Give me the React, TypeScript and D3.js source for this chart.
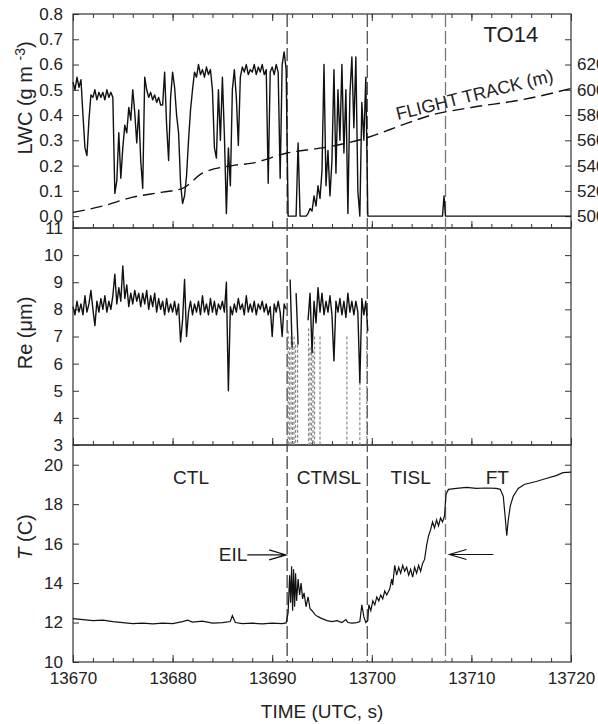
import React, { useEffect, useRef } from 'react'
import * as d3 from 'd3'

// time axis (UTC seconds)
const timeStart = 13670
const timeEnd = 13720
const sampleStep = 0.2
const timeTicks = [13670, 13680, 13690, 13700, 13710, 13720]
const timeMinorTicks = d3.range(13670, 13721, 2)

// axis ticks
const lwcTicks = [0.0, 0.1, 0.2, 0.3, 0.4, 0.5, 0.6, 0.7, 0.8]
const altitudeTicks = [500, 520, 540, 560, 580, 600, 620, 640]
const altitudeLabels = [500, 520, 540, 560, 580, 600, 620]
const reTicks = [3, 4, 5, 6, 7, 8, 9, 10, 11]
const tempTicks = [10, 12, 14, 16, 18, 20]

// LWC (g m-3), one value every 0.2 s from 13670 to 13699.8
const lwcSamples = [
  0.53, 0.50, 0.55, 0.51, 0.54,
  0.40, 0.27, 0.24, 0.38, 0.48,
  0.47, 0.50, 0.46, 0.49, 0.47,
  0.49, 0.46, 0.50, 0.47, 0.49,
  0.47, 0.09, 0.14, 0.33, 0.15,
  0.27, 0.36, 0.33, 0.43, 0.38,
  0.50, 0.41, 0.29, 0.42, 0.22,
  0.11, 0.55, 0.50, 0.47, 0.49,
  0.46, 0.48, 0.45, 0.47, 0.44,
  0.44, 0.57, 0.36, 0.22, 0.47,
  0.57, 0.51, 0.40, 0.33, 0.13,
  0.05, 0.08, 0.16, 0.30, 0.42,
  0.50, 0.57, 0.55, 0.60, 0.56,
  0.58, 0.55, 0.59, 0.56, 0.58,
  0.50, 0.27, 0.23, 0.50, 0.30,
  0.55, 0.32, 0.01, 0.27, 0.12,
  0.50, 0.58, 0.47, 0.28, 0.55,
  0.59, 0.57, 0.60, 0.56, 0.58,
  0.57, 0.60, 0.56, 0.59, 0.57,
  0.60, 0.56, 0.58, 0.13, 0.57,
  0.59, 0.56, 0.60, 0.57, 0.15,
  0.60, 0.65, 0.58, 0.00, 0.00,
  0.00, 0.00, 0.00, 0.29, 0.00,
  0.00, 0.00, 0.00, 0.01, 0.03,
  0.02, 0.08, 0.04, 0.12, 0.07,
  0.18, 0.60, 0.12, 0.26, 0.08,
  0.22, 0.58, 0.17, 0.50, 0.30,
  0.60, 0.25, 0.50, 0.01, 0.48,
  0.63, 0.35, 0.63, 0.10, 0.00,
  0.45, 0.30, 0.55, 0.00, 0.00,
]
// LWC above the cloud
const lwcClearAir: [number, number][] = [
  [13699.8, 0], [13707.1, 0], [13707.25, 0.08], [13707.4, 0], [13720, 0],
]

// flight altitude (m)
const flightTrack: [number, number][] = [
  [13670, 503], [13673, 508], [13676, 515], [13679, 519], [13681, 522],
  [13683, 534], [13686, 540], [13688, 542], [13691.5, 550], [13695, 554],
  [13699.5, 562], [13703, 572], [13706, 580], [13710, 586], [13715, 592],
  [13720, 601],
]

// Re (um), one value every 0.2 s from 13670, null = no droplets
const reSamples = [
  8.1, 7.8, 8.3, 7.9, 8.2,
  7.8, 8.5, 7.9, 8.2, 8.7,
  8.0, 7.4, 8.3, 7.9, 8.4,
  8.0, 8.5, 7.9, 8.3, 8.0,
  8.5, 9.3, 8.2, 8.8, 8.3,
  9.6, 8.4, 8.9, 8.1, 8.6,
  8.2, 8.7, 8.3, 8.6, 8.1,
  8.6, 8.2, 8.7, 8.0, 8.5,
  8.1, 8.6, 7.9, 8.4, 8.0,
  8.3, 7.8, 8.4, 7.9, 8.2,
  7.9, 8.3, 7.8, 8.2, 6.8,
  7.6, 9.1, 7.0, 7.9, 8.3,
  7.8, 8.2, 7.9, 8.3, 7.8,
  8.5, 7.9, 8.2, 7.8, 8.4,
  7.9, 8.3, 7.8, 8.2, 8.0,
  8.3, 7.9, 9.0, 5.0, 8.1,
  7.8, 8.2, 7.9, 8.4, 8.0,
  8.2, 7.8, 8.5, 7.9, 8.2,
  7.9, 8.3, 7.8, 8.2, 8.0,
  8.3, 7.9, 8.2, 7.8, 8.1,
  7.0, 8.2, 7.9, 8.3, 7.9,
  7.0, 8.2, 8.0, null, 9.1,
  6.6, null, 8.6, 6.7, null,
  null, null, null, 7.6, 8.6,
  6.4, 8.3, 7.5, 8.8, 7.9,
  8.6, 7.8, 8.3, 7.9, 8.5,
  7.8, 6.1, 8.3, 7.9, 8.4,
  7.8, 8.3, 7.7, 8.6, 7.9,
  8.3, 7.8, 8.3, 7.9, 5.3,
  8.4, 7.8, 8.3, 7.2, null,
]
// gray dropouts in Re: [time, value where the drop starts]
const reDropouts: [number, number][] = [
  [13691.6, 7.2], [13691.75, 6.6], [13691.9, 7.0], [13692.05, 6.8],
  [13692.2, 7.0], [13692.35, 6.7], [13692.55, 6.7], [13693.65, 7.3],
  [13693.8, 6.6], [13693.95, 6.4], [13694.1, 6.5], [13694.25, 7.0],
  [13694.8, 7.0], [13697.5, 7.0], [13698.8, 5.5], [13699.5, 7.2],
]

// temperature (C)
const temperature: [number, number][] = [
  [13670, 12.2], [13671, 12.15], [13672, 12.1], [13673, 12.12], [13674, 12.05],
  [13675, 12.0], [13676, 11.95], [13677, 11.97], [13678, 11.93], [13679, 11.97],
  [13680, 11.95], [13681, 12.05], [13681.5, 12.12], [13682, 12.02], [13683, 12.07],
  [13684, 11.97], [13685, 12.0], [13685.8, 12.05], [13686.0, 12.35], [13686.3, 12.0],
  [13687, 11.95], [13688, 11.97], [13689, 11.93], [13690, 11.97], [13691, 11.95],
  [13691.4, 11.98], [13691.6, 12.5], [13691.75, 14.4], [13691.85, 13.0], [13691.95, 14.85],
  [13692.05, 12.6], [13692.15, 14.7], [13692.25, 12.8], [13692.35, 14.5], [13692.45, 13.1],
  [13692.6, 14.2], [13692.75, 13.4], [13692.9, 14.0], [13693.05, 13.2], [13693.2, 13.5],
  [13693.4, 12.8], [13693.6, 13.3], [13693.8, 12.7], [13694, 12.6], [13694.3, 12.4],
  [13694.6, 12.3], [13695, 12.2], [13695.5, 12.1], [13696, 12.05], [13696.5, 12.1],
  [13697, 12.0], [13697.4, 12.15], [13697.6, 12.0], [13698, 11.97], [13698.5, 12.0],
  [13698.8, 12.05], [13699.0, 12.9], [13699.2, 12.3], [13699.4, 12.0], [13699.6, 12.1],
  [13699.7, 12.9], [13699.9, 12.6], [13700.1, 13.1], [13700.3, 12.9], [13700.5, 13.3],
  [13700.7, 13.1], [13700.9, 13.4], [13701.1, 13.2], [13701.3, 13.6], [13701.5, 13.4],
  [13701.8, 13.7], [13702.0, 14.2], [13702.1, 13.9], [13702.3, 14.9], [13702.5, 14.4],
  [13702.7, 14.8], [13702.9, 14.5], [13703.1, 14.9], [13703.3, 14.6], [13703.5, 14.8],
  [13703.7, 14.4], [13703.9, 14.7], [13704.1, 14.3], [13704.3, 14.8], [13704.5, 14.5],
  [13704.7, 14.9], [13704.9, 14.6], [13705.1, 15.0], [13705.3, 15.2], [13705.5, 15.9],
  [13705.7, 16.4], [13705.9, 16.7], [13706.1, 17.1], [13706.3, 16.8], [13706.5, 17.2],
  [13706.7, 16.9], [13706.9, 17.3], [13707.1, 17.1], [13707.3, 17.4], [13707.45, 18.5],
  [13707.7, 18.75], [13708.5, 18.8], [13709.5, 18.85], [13710.5, 18.8], [13711.5, 18.82],
  [13712.5, 18.8], [13712.9, 18.75], [13713.2, 18.4], [13713.4, 17.3], [13713.55, 16.4],
  [13713.7, 17.2], [13713.9, 17.9], [13714.2, 18.4], [13714.7, 18.8], [13715.3, 19.0],
  [13716.5, 19.15], [13717.5, 19.3], [13718.5, 19.45], [13719.2, 19.6], [13720, 19.62],
]

// layer boundaries and names
const layerBounds = [13691.5, 13699.55, 13707.4]
const layerBoundColors = ['#444', '#555', '#777']
const layerNames = ['CTL', 'CTMSL', 'TISL', 'FT']
const layerLabelTimes = [13681.85, 13695.7, 13703.9, 13712.6]
const layerLabelTemp = 19.0

const font = 'Liberation Sans, Arial, sans-serif'

function App() {
  const svgRef = useRef<SVGSVGElement>(null)

  useEffect(() => {
    const svg = d3.select(svgRef.current)
    svg.selectAll('*').remove()

    const left = 73
    const right = 571

    const x = d3.scaleLinear().domain([timeStart, timeEnd]).range([left, right])
    const yLwc = d3.scaleLinear().domain([-0.047, 0.8]).range([228, 14])
    const yAlt = d3.scaleLinear().domain([500 - 0.047 * 200, 500 + 0.8 * 200]).range([228, 14])
    const yRe = d3.scaleLinear().domain([3, 11]).range([445, 228])
    const yT = d3.scaleLinear().domain([10, 21]).range([662, 445])

    const panels = [yLwc, yRe, yT]

    const styleAxis = (g: any) => {
      g.select('.domain').remove()
      g.selectAll('line').attr('stroke', '#333')
      g.selectAll('text').attr('font-family', font).attr('font-size', 17).attr('fill', '#222')
    }

    // frames
    panels.forEach(y => {
      svg.append('rect')
        .attr('x', left).attr('y', y.range()[1])
        .attr('width', right - left).attr('height', y.range()[0] - y.range()[1])
        .attr('fill', 'none').attr('stroke', '#333').attr('stroke-width', 1.2)
    })

    // x ticks: top of first panel, bottom of each panel
    svg.append('g').attr('transform', `translate(0,${yLwc.range()[1]})`)
      .call(d3.axisTop(x).tickValues(timeMinorTicks).tickSize(-4).tickFormat(() => ''))
      .call(styleAxis)
    svg.append('g').attr('transform', `translate(0,${yLwc.range()[1]})`)
      .call(d3.axisTop(x).tickValues(timeTicks).tickSize(-7).tickFormat(() => ''))
      .call(styleAxis)
    panels.forEach((y, i) => {
      svg.append('g').attr('transform', `translate(0,${y.range()[0]})`)
        .call(d3.axisBottom(x).tickValues(timeMinorTicks).tickSize(-4).tickFormat(() => ''))
        .call(styleAxis)
      svg.append('g').attr('transform', `translate(0,${y.range()[0]})`)
        .call(d3.axisBottom(x).tickValues(timeTicks).tickSize(-7).tickPadding(10)
          .tickFormat(d => (i === 2 ? String(d) : '')))
        .call(styleAxis)
    })

    // left axes
    svg.append('g').attr('transform', `translate(${left},0)`)
      .call(d3.axisLeft(yLwc).tickValues(lwcTicks).tickSize(-6).tickPadding(10).tickFormat(d3.format('.1f')))
      .call(styleAxis)
    svg.append('g').attr('transform', `translate(${left},0)`)
      .call(d3.axisLeft(yRe).tickValues(reTicks).tickSize(-6).tickPadding(10).tickFormat(d3.format('d')))
      .call(styleAxis)
    svg.append('g').attr('transform', `translate(${left},0)`)
      .call(d3.axisLeft(yT).tickValues(tempTicks).tickSize(-6).tickPadding(10).tickFormat(d3.format('d')))
      .call(styleAxis)

    // right axes
    svg.append('g').attr('transform', `translate(${right},0)`)
      .call(d3.axisRight(yAlt).tickValues(altitudeTicks).tickSize(-6).tickPadding(6)
        .tickFormat(d => (altitudeLabels.includes(+d) ? String(d) : '')))
      .call(styleAxis)
    svg.append('g').attr('transform', `translate(${right},0)`)
      .call(d3.axisRight(yRe).tickValues(reTicks.slice(1, -1)).tickSize(-6).tickFormat(() => ''))
      .call(styleAxis)
    svg.append('g').attr('transform', `translate(${right},0)`)
      .call(d3.axisRight(yT).tickValues(tempTicks.slice(1)).tickSize(-6).tickFormat(() => ''))
      .call(styleAxis)

    // layer boundaries
    layerBounds.forEach((t, i) => {
      svg.append('line')
        .attr('x1', x(t)).attr('x2', x(t))
        .attr('y1', yLwc.range()[1]).attr('y2', yT.range()[0])
        .attr('stroke', layerBoundColors[i]).attr('stroke-width', 1.3)
        .attr('stroke-dasharray', '13,4')
    })

    // LWC
    const lwcSeries: [number, number][] = lwcSamples
      .map((v, i) => [timeStart + i * sampleStep, v] as [number, number])
      .concat(lwcClearAir)
    svg.append('path')
      .datum(lwcSeries)
      .attr('fill', 'none').attr('stroke', '#111').attr('stroke-width', 1.4)
      .attr('stroke-linejoin', 'round')
      .attr('d', d3.line<[number, number]>().x(d => x(d[0])).y(d => yLwc(d[1])))

    // flight track
    svg.append('path')
      .datum(flightTrack)
      .attr('fill', 'none').attr('stroke', '#111').attr('stroke-width', 1.4)
      .attr('stroke-dasharray', '12,6')
      .attr('d', d3.line<[number, number]>().curve(d3.curveMonotoneX).x(d => x(d[0])).y(d => yAlt(d[1])))

    svg.append('text')
      .attr('transform', `translate(${x(13702.6)},${yAlt(576)}) rotate(-14)`)
      .attr('font-family', font).attr('font-size', 18).attr('fill', '#222')
      .text('FLIGHT TRACK (m)')

    svg.append('text')
      .attr('x', x(13716.7)).attr('y', yLwc(0.69))
      .attr('text-anchor', 'end')
      .attr('font-family', font).attr('font-size', 22).attr('fill', '#222')
      .text('TO14')

    // Re dropouts
    reDropouts.forEach(d => {
      svg.append('line')
        .attr('x1', x(d[0])).attr('x2', x(d[0]))
        .attr('y1', yRe(d[1])).attr('y2', yRe(3))
        .attr('stroke', '#888').attr('stroke-width', 1.2)
        .attr('stroke-dasharray', '3,2')
    })

    // Re
    const reSeries = reSamples.map((v, i) => [timeStart + i * sampleStep, v] as [number, number | null])
    svg.append('path')
      .datum(reSeries)
      .attr('fill', 'none').attr('stroke', '#111').attr('stroke-width', 1.4)
      .attr('stroke-linejoin', 'round')
      .attr('d', d3.line<[number, number | null]>()
        .defined(d => d[1] !== null)
        .x(d => x(d[0])).y(d => yRe(d[1] as number)))

    // temperature
    svg.append('path')
      .datum(temperature)
      .attr('fill', 'none').attr('stroke', '#111').attr('stroke-width', 1.2)
      .attr('d', d3.line<[number, number]>().x(d => x(d[0])).y(d => yT(d[1])))

    // layer labels
    layerNames.forEach((name, i) => {
      svg.append('text')
        .attr('x', x(layerLabelTimes[i])).attr('y', yT(layerLabelTemp))
        .attr('text-anchor', 'middle')
        .attr('font-family', font).attr('font-size', 19).attr('fill', '#222')
        .text(name)
    })

    // inversion arrows
    const arrow = (from: number, to: number, temp: number) => {
      const y = yT(temp)
      const x0 = x(from)
      const x1 = x(to)
      const dir = x1 > x0 ? 1 : -1
      svg.append('path')
        .attr('d', `M${x0},${y}L${x1},${y}M${x1 - dir * 17},${y - 5}L${x1},${y}L${x1 - dir * 17},${y + 5}`)
        .attr('fill', 'none').attr('stroke', '#111').attr('stroke-width', 1.2)
    }
    arrow(13687.5, 13691.4, 15.43)
    arrow(13712.2, 13707.8, 15.45)
    svg.append('text')
      .attr('x', x(13687.5)).attr('y', yT(15.1))
      .attr('text-anchor', 'end')
      .attr('font-family', font).attr('font-size', 19).attr('fill', '#222')
      .text('EIL')

    // axis titles
    const lwcTitle = svg.append('text')
      .attr('transform', 'translate(32,98) rotate(-90)')
      .attr('text-anchor', 'middle')
      .attr('font-family', font).attr('font-size', 20).attr('fill', '#222')
    lwcTitle.append('tspan').text('LWC (g m ')
    lwcTitle.append('tspan').attr('dy', -7).attr('font-size', 14).text('-3')
    lwcTitle.append('tspan').attr('dy', 7).text(')')

    svg.append('text')
      .attr('transform', 'translate(32,333) rotate(-90)')
      .attr('text-anchor', 'middle')
      .attr('font-family', font).attr('font-size', 20).attr('fill', '#222')
      .text('Re (\u03bcm)')

    const tTitle = svg.append('text')
      .attr('transform', 'translate(32,537) rotate(-90)')
      .attr('text-anchor', 'middle')
      .attr('font-family', font).attr('font-size', 20).attr('fill', '#222')
    tTitle.append('tspan').attr('font-style', 'italic').text('T')
    tTitle.append('tspan').text(' (C)')

    svg.append('text')
      .attr('x', (left + right) / 2).attr('y', 718)
      .attr('text-anchor', 'middle')
      .attr('font-family', font).attr('font-size', 19).attr('fill', '#222')
      .text('TIME (UTC, s)')
  }, [])

  return (
    <div style={{ position: 'absolute', left: 0, top: 0 }}>
      <svg ref={svgRef} width={598} height={724} style={{ display: 'block', background: '#fff' }} />
    </div>
  )
}

export default App
